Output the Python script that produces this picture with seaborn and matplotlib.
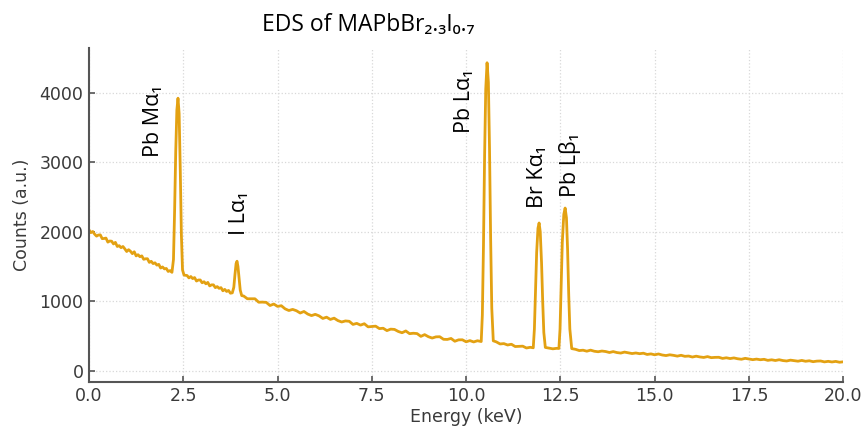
import matplotlib

matplotlib.use("Agg")
import matplotlib.pyplot as plt
import numpy as np
import seaborn as sns

# spectrum, piece by piece (energy in keV, counts)
kev_low = [
    0.00, 0.05, 0.10, 0.15, 0.20, 0.25, 0.30, 0.35, 0.40, 0.45,
    0.50, 0.55, 0.60, 0.65, 0.70, 0.75, 0.80, 0.85, 0.90, 0.95,
    1.00, 1.05, 1.10, 1.15, 1.20, 1.25, 1.30, 1.35, 1.40, 1.45,
    1.50, 1.55, 1.60, 1.65, 1.70, 1.75, 1.80, 1.85, 1.90, 1.95,
    2.00, 2.05, 2.10, 2.15,
]
cts_low = [
    2025, 1986, 2003, 1964, 1936, 1952, 1954, 1900, 1902, 1908,
    1850, 1866, 1863, 1824, 1846, 1787, 1799, 1770, 1787, 1753,
    1715, 1741, 1718, 1684, 1711, 1652, 1669, 1640, 1652, 1603,
    1610, 1611, 1558, 1574, 1541, 1552, 1519, 1530, 1477, 1493,
    1465, 1471, 1428, 1440,
]

kev_pb_ma = [2.20, 2.24, 2.27, 2.30, 2.33, 2.36, 2.39, 2.42, 2.45, 2.48, 2.52]
cts_pb_ma = [1415, 1600, 2300, 3150, 3750, 3920, 3700, 2900, 1950, 1450, 1375]

kev_mid = [
    2.60, 2.65, 2.70, 2.75, 2.80, 2.85, 2.90, 2.95, 3.00, 3.05,
    3.10, 3.15, 3.20, 3.25, 3.30, 3.35, 3.40, 3.45, 3.50, 3.55,
    3.60, 3.65, 3.70, 3.75,
]
cts_mid = [
    1370, 1335, 1355, 1325, 1340, 1290, 1305, 1305, 1265, 1280,
    1250, 1270, 1220, 1235, 1235, 1195, 1210, 1185, 1195, 1150,
    1170, 1140, 1155, 1115,
]

kev_i_la = [3.80, 3.84, 3.87, 3.90, 3.925, 3.95, 3.98, 4.01, 4.05]
cts_i_la = [1120, 1200, 1380, 1540, 1575, 1500, 1330, 1160, 1080]

kev_tail = [
    4.1, 4.2, 4.3, 4.4, 4.5, 4.6, 4.7, 4.8, 4.9, 5.0,
    5.1, 5.2, 5.3, 5.4, 5.5, 5.6, 5.7, 5.8, 5.9, 6.0,
    6.1, 6.2, 6.3, 6.4, 6.5, 6.6, 6.7, 6.8, 6.9, 7.0,
    7.1, 7.2, 7.3, 7.4, 7.5, 7.6, 7.7, 7.8, 7.9, 8.0,
    8.1, 8.2, 8.3, 8.4, 8.5, 8.6, 8.7, 8.8, 8.9, 9.0,
    9.1, 9.2, 9.3, 9.4, 9.5, 9.6, 9.7, 9.8, 9.9, 10.0,
    10.1, 10.2, 10.3,
]
cts_tail = [
    1075, 1035, 1035, 1035, 985, 987, 983, 938, 959, 925,
    935, 890, 866, 882, 863, 830, 852, 815, 793, 811,
    789, 752, 770, 738, 756, 721, 701, 716, 711, 666,
    681, 656, 676, 631, 636, 641, 606, 611, 577, 598,
    594, 565, 546, 572, 533, 539, 534, 494, 519, 489,
    470, 487, 489, 452, 450, 464, 424, 444, 445, 416,
    433, 414, 431,
]

kev_pb_la = [10.40, 10.43, 10.46, 10.49, 10.52, 10.555, 10.59, 10.62, 10.65, 10.68, 10.72]
cts_pb_la = [420, 800, 1800, 3100, 4050, 4430, 4150, 3200, 1900, 900, 430]

kev_gap = [10.8, 10.9, 11.0, 11.1, 11.2, 11.3, 11.4, 11.5, 11.6, 11.7]
cts_gap = [415, 385, 390, 370, 381, 348, 350, 353, 327, 337]

kev_br_ka = [11.78, 11.81, 11.84, 11.87, 11.905, 11.935, 11.965, 12.00, 12.03, 12.06, 12.10]
cts_br_ka = [330, 600, 1150, 1700, 2050, 2125, 2000, 1550, 1000, 550, 335]

kev_pb_lb = [12.2, 12.3, 12.40, 12.46, 12.49, 12.52, 12.55, 12.59, 12.625, 12.66, 12.69, 12.72, 12.75, 12.80]
cts_pb_lb = [325, 315, 322, 320, 600, 1200, 1850, 2250, 2340, 2200, 1750, 1100, 600, 318]

kev_high = [
    12.9, 13.0, 13.1, 13.2, 13.3, 13.4, 13.5, 13.6, 13.7, 13.8,
    13.9, 14.0, 14.1, 14.2, 14.3, 14.4, 14.5, 14.6, 14.7, 14.8,
    14.9, 15.0, 15.1, 15.2, 15.3, 15.4, 15.5, 15.6, 15.7, 15.8,
    15.9, 16.0, 16.1, 16.2, 16.3, 16.4, 16.5, 16.6, 16.7, 16.8,
    16.9, 17.0, 17.1, 17.2, 17.3, 17.4, 17.5, 17.6, 17.7, 17.8,
    17.9, 18.0, 18.1, 18.2, 18.3, 18.4, 18.5, 18.6, 18.7, 18.8,
    18.9, 19.0, 19.1, 19.2, 19.3, 19.4, 19.5, 19.6, 19.7, 19.8,
    19.9, 20.0,
]
cts_high = [
    308, 290, 295, 281, 296, 280, 273, 283, 276, 262,
    275, 261, 254, 268, 257, 247, 255, 245, 252, 234,
    242, 229, 241, 226, 218, 229, 221, 210, 222, 207,
    211, 197, 209, 198, 191, 203, 188, 192, 193, 177,
    186, 175, 184, 172, 165, 178, 168, 159, 167, 158,
    164, 149, 157, 147, 158, 146, 140, 152, 145, 137,
    148, 136, 143, 130, 138, 140, 127, 135, 126, 134,
    122, 128,
]

peak_labels = ["Pb M\u03b1\u2081", "I L\u03b1\u2081", "Pb L\u03b1\u2081", "Br K\u03b1\u2081", "Pb L\u03b2\u2081"]
label_x = [1.72, 3.98, 9.95, 11.88, 12.76]
label_y = [3070, 1950, 3417, 2340, 2500]

x_ticks = [0.0, 2.5, 5.0, 7.5, 10.0, 12.5, 15.0, 17.5, 20.0]
y_ticks = [0, 1000, 2000, 3000, 4000]

energy = np.concatenate([kev_low, kev_pb_ma, kev_mid, kev_i_la, kev_tail,
                         kev_pb_la, kev_gap, kev_br_ka, kev_pb_lb, kev_high])
counts = np.concatenate([cts_low, cts_pb_ma, cts_mid, cts_i_la, cts_tail,
                         cts_pb_la, cts_gap, cts_br_ka, cts_pb_lb, cts_high])

line_color = "#E3A112"
axis_grey = "#555555"
text_grey = "#3a3a3a"
label_fonts = ["Open Sans", "DejaVu Sans"]

sns.set_theme(style="ticks")
plt.rcParams["font.family"] = ["DejaVu Sans"]

fig = plt.figure(figsize=(8.64, 4.30), dpi=100)
ax = fig.add_axes([0.103, 0.112, 0.873, 0.776])

sns.lineplot(x=energy, y=counts, color=line_color, linewidth=2.0, ax=ax)

for text, x, y in zip(peak_labels, label_x, label_y):
    ax.text(x, y, text, rotation=90, ha="center", va="bottom",
            fontsize=15.5, color="black", family=label_fonts)

ax.set_xlim(0, 20)
ax.set_ylim(-160, 4640)
ax.set_xticks(x_ticks)
ax.set_yticks(y_ticks)
ax.set_xticklabels([f"{t:.1f}" for t in x_ticks])
ax.grid(True, linestyle=":", color="#d8d8d8", linewidth=0.9)
ax.tick_params(direction="in", length=4, width=1.2, color=axis_grey,
               labelsize=12.5, labelcolor=text_grey, pad=4)
for side in ("top", "right"):
    ax.spines[side].set_visible(False)
for side in ("left", "bottom"):
    ax.spines[side].set_color(axis_grey)
    ax.spines[side].set_linewidth(1.5)

ax.set_xlabel("Energy (keV)", fontsize=12.5, color=text_grey, labelpad=2)
ax.set_ylabel("Counts (a.u.)", fontsize=12.5, color=text_grey, labelpad=6)

fig.text(0.426, 0.942, "EDS of MAPbBr\u2082.\u2083I\u2080.\u2087", ha="center", va="center",
         fontsize=16.5, color="black", family=label_fonts)

fig.savefig("out.png", dpi=100)
